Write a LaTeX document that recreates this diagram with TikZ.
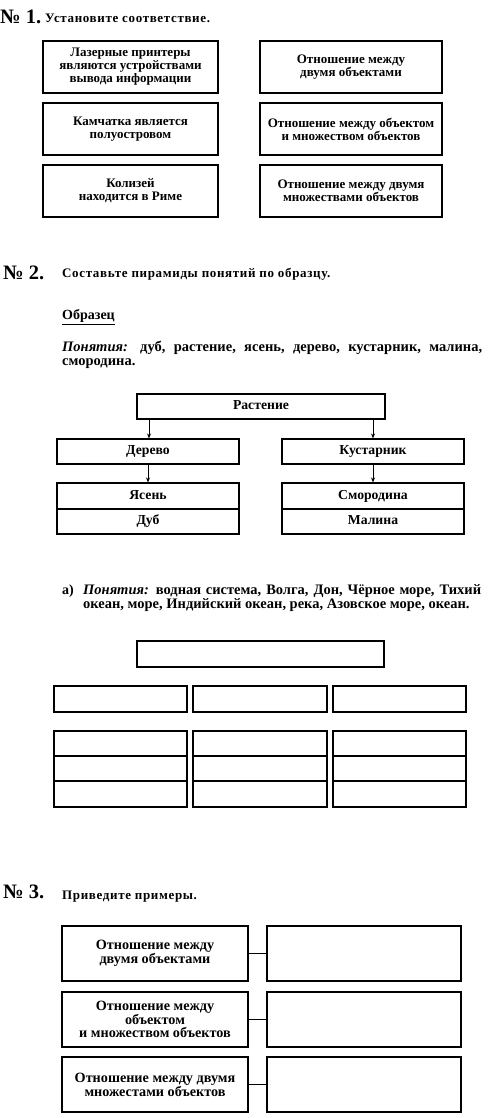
\documentclass[tikz,border=0pt]{standalone}
\usepackage{fontspec}
\setmainfont{Liberation Serif}
\usetikzlibrary{arrows.meta}
\newcommand\bx[6]{\node[box, minimum width={#4-#2}, minimum height={#5-#3}] (#1) at ({(#2+#4)/2},{(#3+#5)/2}) {#6};}
\begin{document}
\begin{tikzpicture}[x=1pt,y=-1pt,
  box/.style={draw, line width=1.1pt, inner sep=0pt, align=center, font=\bfseries\fontsize{13}{13}\selectfont},
  boxb/.style={font=\bfseries\fontsize{13.7}{13}\selectfont, text height=9.5pt, text depth=3pt},
  boxc/.style={font=\bfseries\fontsize{14.2}{13}\selectfont},
  num/.style={anchor=west, inner sep=0pt, font=\bfseries\fontsize{20.5}{21}\selectfont},
  head/.style={anchor=west, inner sep=0pt, font=\bfseries\fontsize{13}{14}\selectfont\addfontfeature{LetterSpace=5}},
  para/.style={anchor=north west, inner sep=0pt, align=justify, font=\bfseries\fontsize{14.5}{13.5}\selectfont},
  arr/.style={-{Stealth[length=5pt,width=4pt]}, line width=0.9pt},
  link/.style={line width=0.9pt}]
\useasboundingbox[fill=white] (0,0) rectangle (500,1118);
% --- No 1
\node[num] (n1) at (0,17) {№ 1.};
\node[head] (t1) at (45,18) {Установите соответствие.};
\bx{a1}{43}{41}{218}{93}{Лазерные принтеры\\являются устройствами\\вывода информации}
\bx{a2}{43}{103}{218}{155}{Камчатка является\\полуостровом}
\bx{a3}{43}{165}{218}{217}{Колизей\\находится в Риме}
\bx{b1}{260}{41}{442}{93}{Отношение между\\двумя объектами}
\bx{b2}{260}{103}{442}{155}{Отношение между объектом\\и множеством объектов}
\bx{b3}{260}{165}{442}{217}{Отношение между двумя\\множествами объектов}
% --- No 2
\node[num] (n2) at (3,273) {№ 2.};
\node[head] (t2) at (62,274) {Составьте пирамиды понятий по образцу.};
\node[anchor=west, inner sep=0pt, font=\bfseries\fontsize{14}{13}\selectfont] (obr) at (62,317) {\underline{Образец}};
\node[para, text width=420] (p1) at (62,341) {\textit{Понятия:} дуб, растение, ясень, дерево, кустарник, малина, смородина.};
\tikzset{box/.append style={boxb}}
\bx{r}{137}{394}{385}{419}{Растение}
\bx{d}{57}{439}{239}{464}{Дерево}
\bx{k}{282}{439}{464}{464}{Кустарник}
\bx{ya}{57}{483}{239}{509}{Ясень}
\bx{du}{57}{509}{239}{534}{Дуб}
\bx{sm}{282}{483}{464}{509}{Смородина}
\bx{ma}{282}{509}{464}{534}{Малина}
\draw[arr] (r.south -| 149,0) -- (d.north -| 149,0);
\draw[arr] (r.south -| 373,0) -- (k.north -| 373,0);
\draw[arr] (d.south) -- (ya.north);
\draw[arr] (k.south) -- (sm.north);
% --- 2a
\node[anchor=west, inner sep=0pt, font=\bfseries\fontsize{14}{13}\selectfont] (aa) at (62,591) {а)};
\node[para, text width=398, font=\bfseries\fontsize{14.5}{14}\selectfont] (p2) at (83,584) {\textit{Понятия:} водная система, Волга, Дон, Чёрное море, Тихий океан, море, Индийский океан, река, Азовское море, океан.};
\tikzset{box/.style={draw, line width=1.1pt, inner sep=0pt}}
\bx{e0}{137}{641}{384}{667}{}
\bx{e1}{54}{686}{187}{712}{}
\bx{e2}{193}{686}{327}{712}{}
\bx{e3}{333}{686}{466}{712}{}
\bx{f11}{54}{731}{187}{756}{}
\bx{f12}{54}{756}{187}{781}{}
\bx{f13}{54}{781}{187}{807}{}
\bx{f21}{193}{731}{327}{756}{}
\bx{f22}{193}{756}{327}{781}{}
\bx{f23}{193}{781}{327}{807}{}
\bx{f31}{333}{731}{466}{756}{}
\bx{f32}{333}{756}{466}{781}{}
\bx{f33}{333}{781}{466}{807}{}
% --- No 3
\node[num] (n3) at (3,892) {№ 3.};
\node[head] (t3) at (62,897) {Приведите примеры.};
\tikzset{box/.style={draw, line width=1.1pt, inner sep=0pt, align=center, boxc}}
\bx{g1}{62}{926}{248}{981}{Отношение между\\двумя объектами}
\bx{g2}{62}{992}{248}{1047}{Отношение между\\объектом\\и множеством объектов}
\bx{g3}{62}{1057}{248}{1112}{Отношение между двумя\\множестами объектов}
\bx{h1}{267}{926}{461}{981}{}
\bx{h2}{267}{992}{461}{1047}{}
\bx{h3}{267}{1057}{461}{1112}{}
\draw[link] (g1.east) -- (h1.west);
\draw[link] (g2.east) -- (h2.west);
\draw[link] (g3.east) -- (h3.west);
\end{tikzpicture}
\end{document}
